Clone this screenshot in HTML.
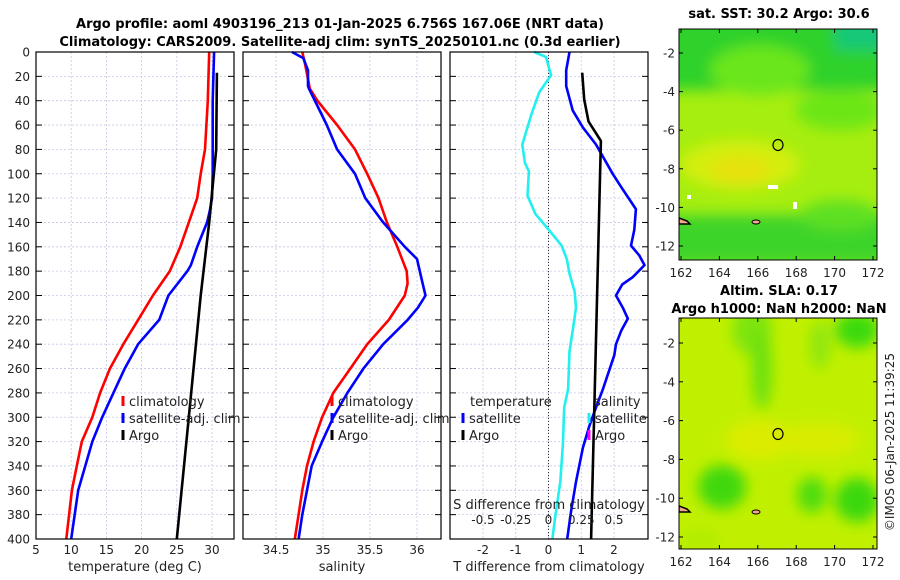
<!DOCTYPE html>
<html><head><meta charset="utf-8"><style>
body{margin:0;background:#fff;}
svg{display:block;font-family:"DejaVu Sans","Liberation Sans",sans-serif;}
</style></head><body>
<svg id="c" width="900" height="580" viewBox="0 0 900 580" xmlns="http://www.w3.org/2000/svg">
<defs>
<filter id="blur6" x="-50%" y="-50%" width="200%" height="200%"><feGaussianBlur stdDeviation="7"/></filter>
<filter id="blur3" x="-50%" y="-50%" width="200%" height="200%"><feGaussianBlur stdDeviation="4"/></filter>
<clipPath id="m1"><rect x="679" y="29" width="198" height="231"/></clipPath>
<clipPath id="m2"><rect x="679" y="318" width="198" height="231"/></clipPath>
</defs>
<text x="340" y="28" text-anchor="middle" font-size="13" font-weight="bold">Argo profile: aoml 4903196_213 01-Jan-2025 6.756S 167.06E (NRT data)</text>
<text x="340" y="46" text-anchor="middle" font-size="13" font-weight="bold">Climatology: CARS2009. Satellite-adj clim: synTS_20250101.nc (0.3d earlier)</text>
<g id="p1"></g>
<g id="p2"></g>
<g id="p3"></g>

<!-- SST map -->
<g>
<text x="779" y="18" text-anchor="middle" font-size="13" font-weight="bold">sat. SST: 30.2 Argo: 30.6</text>
<g clip-path="url(#m1)">
<rect x="679" y="29" width="198" height="231" fill="#a6ee10"/>
<g filter="url(#blur6)">
<rect x="660" y="10" width="240" height="80" fill="#2fd22a"/>
<ellipse cx="760" cy="70" rx="50" ry="25" fill="#6ae61a"/>
<rect x="835" y="10" width="60" height="40" fill="#14c878"/>
<ellipse cx="840" cy="110" rx="45" ry="20" fill="#6de618"/>
<ellipse cx="740" cy="165" rx="60" ry="25" fill="#d4ee10"/>
<ellipse cx="740" cy="170" rx="30" ry="12" fill="#e8e010"/>
<rect x="660" y="215" width="240" height="50" fill="#3ed42a"/>
<ellipse cx="840" cy="215" rx="40" ry="15" fill="#5ee020"/>
</g>
<rect x="768" y="185" width="10" height="4" fill="#fff"/>
<rect x="793" y="202" width="4" height="7" fill="#fff"/>
<rect x="687" y="195" width="4" height="4" fill="#fff"/>
<path d="M679,218 L687,221 L690,224 L679,224Z" fill="#f2a888" stroke="#000" stroke-width="1.5"/>
<ellipse cx="756" cy="222" rx="4" ry="2" fill="#f2a888" stroke="#000"/>
</g>
<ellipse cx="778" cy="145" rx="5" ry="5.5" fill="none" stroke="#000" stroke-width="1.2"/>
<rect x="679" y="29" width="198" height="231" fill="none" stroke="#000"/>
<g id="m1ax"></g>
</g>

<!-- SLA map -->
<g>
<text x="779" y="295" text-anchor="middle" font-size="13" font-weight="bold">Altim. SLA: 0.17</text>
<text x="779" y="313" text-anchor="middle" font-size="13" font-weight="bold">Argo h1000: NaN h2000: NaN</text>
<g clip-path="url(#m2)">
<rect x="679" y="318" width="198" height="231" fill="#c0f000"/>
<g filter="url(#blur6)">
<ellipse cx="752" cy="330" rx="20" ry="25" fill="#7ee40a"/>
<ellipse cx="762" cy="370" rx="10" ry="40" fill="#6ae00a"/>
<ellipse cx="857" cy="330" rx="22" ry="18" fill="#3ada10"/>
<ellipse cx="820" cy="345" rx="10" ry="25" fill="#8ee60a"/>
<ellipse cx="722" cy="487" rx="24" ry="22" fill="#40d810"/>
<ellipse cx="812" cy="495" rx="15" ry="18" fill="#50dc10"/>
<ellipse cx="857" cy="500" rx="22" ry="22" fill="#3ad810"/>
<ellipse cx="760" cy="440" rx="35" ry="20" fill="#dcec00"/>
<ellipse cx="820" cy="440" rx="40" ry="18" fill="#d8ec00"/>
<ellipse cx="700" cy="540" rx="20" ry="10" fill="#b0ec00"/>
</g>
<path d="M679,506 L687,509 L690,512 L679,512Z" fill="#f2a888" stroke="#000" stroke-width="1.5"/>
<ellipse cx="756" cy="512" rx="4" ry="2" fill="#f2a888" stroke="#000"/>
</g>
<ellipse cx="778" cy="434" rx="5" ry="5.5" fill="none" stroke="#000" stroke-width="1.2"/>
<rect x="679" y="318" width="198" height="231" fill="none" stroke="#000"/>
<g id="m2ax"></g>
</g>
<text transform="translate(894,442) rotate(-90)" text-anchor="middle" font-size="12" fill="#222">©IMOS 06-Jan-2025 11:39:25</text>
</svg>
<script>
// ---- data ----
const depthTicks = [0,20,40,60,80,100,120,140,160,180,200,220,240,260,280,300,320,340,360,380,400];
const tempTicks = [5,10,15,20,25,30];
const salTicks = [34.5,35,35.5,36];
const tdiffTicks = [-2,-1,0,1,2];
const sdiffTicks = [-0.5,-0.25,0,0.25,0.5];
const sdiffTickLabels = ["-0.5","-0.25","0","0.25","0.5"];

const tClimDepth = [0,40,80,100,120,140,160,180,200,220,240,260,280,300,320,340,360,380,400];
const tClimVal   = [29.6,29.4,29.0,28.4,27.9,26.7,25.5,24.0,21.6,19.5,17.4,15.5,14.1,13.0,11.5,10.8,10.1,9.7,9.3];
const tSatDepth = [0,40,80,100,120,130,140,160,175,180,200,220,240,260,280,300,320,340,360,380,400];
const tSatVal   = [30.3,30.1,30.1,30.1,30.0,29.7,29.3,27.9,27.0,26.5,23.8,22.5,19.5,17.6,16.0,14.4,13.0,12.0,11.0,10.5,10.0];
const argoTDepth = [17,80,140,200,300,400];
const argoTVal   = [30.7,30.6,29.6,28.4,26.7,25.0];

const sClimDepth = [0,10,30,40,60,80,100,120,140,160,180,190,200,220,240,260,280,300,320,340,360,380,400];
const sClimVal   = [34.78,34.81,34.86,34.94,35.15,35.34,35.47,35.59,35.68,35.79,35.89,35.9,35.87,35.7,35.47,35.29,35.11,34.99,34.9,34.83,34.78,34.74,34.70];
const sSatDepth = [0,5,15,28,30,60,80,100,120,140,160,170,190,200,210,220,240,260,280,300,320,340,360,380,400];
const sSatVal   = [34.67,34.79,34.84,34.84,34.85,35.04,35.15,35.34,35.45,35.64,35.87,36.0,36.06,36.09,36.01,35.9,35.64,35.43,35.26,35.11,34.99,34.88,34.83,34.78,34.74];

const dTDepth = [0,15,28,48,62,76,100,111,129,146,159,167,175,185,191,200,210,219,229,240,249,261,277,292,307,325,353,377,400];
const dTVal   = [0.64,0.54,0.54,0.74,1.05,1.45,1.96,2.22,2.67,2.62,2.52,2.77,2.93,2.57,2.25,2.06,2.27,2.42,2.22,2.06,2.01,1.86,1.66,1.45,1.25,1.05,0.84,0.69,0.57];
const dSDepth = [0,4,19,33,51,76,91,98,118,133,147,159,170,182,197,210,225,246,277,292,322,353,383,400];
const dSVal   = [-0.11,-0.02,0.02,-0.07,-0.13,-0.2,-0.18,-0.15,-0.16,-0.1,0.01,0.1,0.14,0.16,0.2,0.21,0.19,0.16,0.15,0.12,0.11,0.09,0.05,0.03];
const argoDTDepth = [17,39,57,73,400];
const argoDTVal   = [1.03,1.09,1.22,1.6,1.3];

const mapLonTicks = [162,164,166,168,170,172];
const mapLatTicks = [-2,-4,-6,-8,-10,-12];

// ---- helpers ----
const NS = "http://www.w3.org/2000/svg";
function mk(tag, attrs, parent){const e=document.createElementNS(NS,tag);for(const k in attrs)e.setAttribute(k,attrs[k]);parent.appendChild(e);return e;}
const Y0=52, Y1=539;
function yD(d){return Y0+(d/400)*(Y1-Y0);}
function lin(d0,d1,r0,r1){return v=>r0+(v-d0)/(d1-d0)*(r1-r0);}

function frame(g,x0,x1,xs,ticks,labels,showY){
  mk('rect',{x:x0,y:Y0,width:x1-x0,height:Y1-Y0,fill:'#fff'},g);
  depthTicks.forEach(d=>{
    const y=yD(d);
    if(d>0&&d<400) mk('line',{x1:x0,x2:x1,y1:y,y2:y,stroke:'#c4c8e6','stroke-width':0.8,'stroke-dasharray':'2,2'},g);
    mk('line',{x1:x0,x2:x0+6,y1:y,y2:y,stroke:'#000'},g);
    mk('line',{x1:x1-6,x2:x1,y1:y,y2:y,stroke:'#000'},g);
    if(showY){const t=mk('text',{x:30,y:y+4.5,'text-anchor':'end','font-size':12,fill:'#222'},g);t.textContent=d;
      
      }
  });
  ticks.forEach((v,i)=>{
    const x=xs(v);
    mk('line',{x1:x,x2:x,y1:Y0,y2:Y1,stroke:'#c4c8e6','stroke-width':0.8,'stroke-dasharray':'2,2'},g);
    const t=mk('text',{x:x,y:554,'text-anchor':'middle','font-size':12,fill:'#222'},g);t.textContent=labels[i];
    
    
  });
}
function border(g,x0,x1){mk('rect',{x:x0,y:Y0,width:x1-x0,height:Y1-Y0,fill:'none',stroke:'#000','stroke-width':1.2},g);}
function line(g,xs,vals,deps,color,name,w){
  const p=vals.map((v,i)=>(i?'L':'M')+xs(v).toFixed(1)+','+yD(deps[i]).toFixed(1)).join(' ');
  const e=mk('path',{d:p,fill:'none',stroke:color,'stroke-width':w||2.6,'stroke-linejoin':'round'},g);
  
  
}
function leg(g,x,y,color,label,name){
  mk('line',{x1:x,x2:x,y1:y-10,y2:y,stroke:color,'stroke-width':3},g);
  const t=mk('text',{x:x+6,y:y,'font-size':13,fill:'#222'},g);t.textContent=label;
  
  
}
function label(g,x,y,s,name){const t=mk('text',{x:x,y:y,'text-anchor':'middle','font-size':13,fill:'#222'},g);t.textContent=s;
  
  }

// panel 1
const g1=document.getElementById('p1');
const xT=lin(5,30,36,212);
frame(g1,36,234,xT,tempTicks,tempTicks,true);
line(g1,xT,tClimVal,tClimDepth,'#ff0000','temp-climatology-line');
line(g1,xT,tSatVal,tSatDepth,'#0000ff','temp-satellite-line');
line(g1,xT,argoTVal,argoTDepth,'#000','temp-argo-line');
border(g1,36,234);
leg(g1,123,406,'#ff0000','climatology','legend-climatology');
leg(g1,123,423,'#0000ff','satellite-adj. clim','legend-satellite');
leg(g1,123,440,'#000','Argo','legend-argo');
label(g1,135,571,'temperature (deg C)','temperature-axis-title');

// panel 2
const g2=document.getElementById('p2');
const xS=lin(34.5,36,276,417);
frame(g2,243,441,xS,salTicks,salTicks,false);
line(g2,xS,sClimVal,sClimDepth,'#ff0000','sal-climatology-line');
line(g2,xS,sSatVal,sSatDepth,'#0000ff','sal-satellite-line');
border(g2,243,441);
leg(g2,332,406,'#ff0000','climatology','legend-climatology-2');
leg(g2,332,423,'#0000ff','satellite-adj. clim','legend-satellite-2');
leg(g2,332,440,'#000','Argo','legend-argo-2');
label(g2,342,571,'salinity','salinity-axis-title');

// panel 3
const g3=document.getElementById('p3');
const xDT=lin(-2,2,483,614);
const xDS=lin(-0.5,0.5,483,614);
frame(g3,450,648,xDT,tdiffTicks,tdiffTicks,false);
mk('line',{x1:xDT(0),x2:xDT(0),y1:Y0,y2:Y1,stroke:'#000','stroke-width':0.8,'stroke-dasharray':'1,2'},g3);
line(g3,xDS,dSVal,dSDepth,'#22f0f0','sdiff-satellite-line');
line(g3,xDT,dTVal,dTDepth,'#0000ff','tdiff-satellite-line');
line(g3,xDT,argoDTVal,argoDTDepth,'#000','tdiff-argo-line');
border(g3,450,648);
sdiffTicks.forEach((v,i)=>{const t=mk('text',{x:xDS(v),y:524,'text-anchor':'middle','font-size':12,fill:'#222'},g3);t.textContent=sdiffTickLabels[i];
  
  });
label(g3,549,520-11,'S difference from climatology','sdiff-axis-title');
label(g3,549,571,'T difference from climatology','tdiff-axis-title');
const th=mk('text',{x:470,y:406,'font-size':13,fill:'#222'},g3);th.textContent='temperature';


const sh=mk('text',{x:594,y:406,'font-size':13,fill:'#222'},g3);sh.textContent='salinity';


leg(g3,463,423,'#0000ff','satellite','legend-t-satellite');
leg(g3,463,440,'#000','Argo','legend-t-argo');
leg(g3,589,423,'#22f0f0','satellite','legend-s-satellite');
leg(g3,589,440,'#ff00ff','Argo','legend-s-argo');

// map axes
function mapAxes(id,top,latA,latB){
  const g=document.getElementById(id);
  const xl=lin(162,172,681,873), yl=lin(-2,-12,latA,latB);
  mapLonTicks.forEach(v=>{const x=xl(v);
    mk('line',{x1:x,x2:x,y1:top+231,y2:top+227,stroke:'#000'},g);
    mk('line',{x1:x,x2:x,y1:top,y2:top+4,stroke:'#000'},g);
    const t=mk('text',{x:x,y:top+231+17,'text-anchor':'middle','font-size':12,fill:'#222'},g);t.textContent=v;
    
    });
  mapLatTicks.forEach(v=>{const y=yl(v);
    mk('line',{x1:679,x2:683,y1:y,y2:y,stroke:'#000'},g);
    mk('line',{x1:873,x2:877,y1:y,y2:y,stroke:'#000'},g);
    const t=mk('text',{x:675,y:y+4.5,'text-anchor':'end','font-size':12,fill:'#222'},g);t.textContent=v;
    
    });
}
mapAxes('m1ax',29,53,246);
mapAxes('m2ax',318,343,537);
</script>
</body></html>
